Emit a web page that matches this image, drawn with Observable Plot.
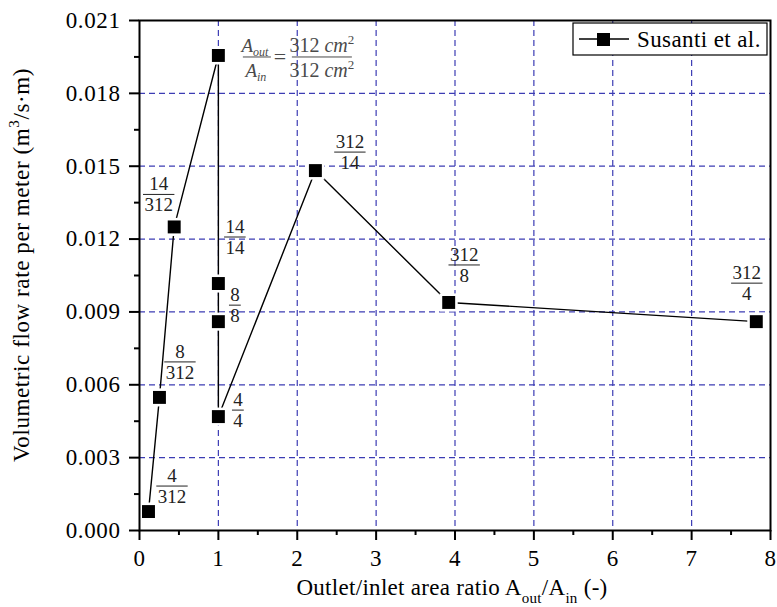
<!DOCTYPE html>
<html><head><meta charset="utf-8">
<script src="https://cdn.jsdelivr.net/npm/d3@7"></script>
<script src="https://cdn.jsdelivr.net/npm/@observablehq/plot@0.6"></script>
<style>body{margin:0;background:#fff;} svg text{font-family:'Liberation Serif','Times New Roman',serif;}</style>
</head><body><div id="chart"></div>
<script>
// ---- data ----
const ratios    = [0.114, 0.253, 0.44, 1.0, 1.0, 1.0, 1.0, 2.23, 3.92, 7.82];
const flowRates = [0.00078, 0.00548, 0.0125, 0.01956, 0.01017, 0.0086, 0.00469, 0.01482, 0.00939, 0.0086];
const numerators   = ["4", "8", "14", "312", "14", "8", "4", "312", "312", "312"];
const denominators = ["312", "312", "312", "312", "14", "8", "4", "14", "8", "4"];
const seriesName = "Susanti et al.";
const xTicks = [0, 1, 2, 3, 4, 5, 6, 7, 8];
const xMinor = [0.5, 1.5, 2.5, 3.5, 4.5, 5.5, 6.5, 7.5];
const yTicks = [0, 0.003, 0.006, 0.009, 0.012, 0.015, 0.018, 0.021];
const yMinor = [0.0015, 0.0045, 0.0075, 0.0105, 0.0135, 0.0165, 0.0195];
const xGrid = [1, 2, 3, 4, 5, 6, 7];
const yGrid = [0.003, 0.006, 0.009, 0.012, 0.015, 0.018];
const xTitle = ["Outlet/inlet area ratio A", "out", "/A", "in", " (-)"];
const yTitle = ["Volumetric flow rate per meter (m", "3", "/s\u00b7m)"];

// ---- layout (pixel offsets of each fraction label from its point) ----
const labelOffsets = [[24,-25],[21,-35],[-15,-32],null,[17,-46],[17,-16],[20,-6],[35,-18],[16,-37],[-9,-38]];
const eqIndex = 3;

const FONT = "'Liberation Serif','Times New Roman',serif";
const GRID = "#3c3cb4";
const rows = ratios.map((x, i) => ({x, y: flowRates[i]}));

const chart = Plot.plot({
  width: 777, height: 607,
  marginLeft: 139, marginRight: 7, marginTop: 20, marginBottom: 77,
  style: {fontFamily: FONT, fontSize: "22px", background: "white", color: "black", overflow: "visible"},
  x: {domain: [0, 8], axis: null},
  y: {domain: [0, 0.021], axis: null},
  marks: [
    Plot.ruleX(xGrid, {stroke: GRID, strokeWidth: 1.2, strokeDasharray: "6,4"}),
    Plot.ruleY(yGrid, {stroke: GRID, strokeWidth: 1.2, strokeDasharray: "6,4"}),
    Plot.line(rows, {x: "x", y: "y", stroke: "black", strokeWidth: 1.4}),
    Plot.dot(rows, {x: "x", y: "y", symbol: "square", r: 10.2, fill: "white", stroke: "none"}),
    Plot.dot(rows, {x: "x", y: "y", symbol: "square", r: 7.3, fill: "black", stroke: "none"}),
    Plot.axisX({ticks: xTicks, tickSize: 10, tickPadding: 9, strokeWidth: 2, fontSize: 23, fontFamily: FONT, label: null, tickFormat: d3.format("d")}),
    Plot.axisX({ticks: xMinor, tickSize: 5, strokeWidth: 2, label: null, tickFormat: () => ""}),
    Plot.axisY({ticks: yTicks, tickSize: 10, tickPadding: 9, strokeWidth: 2, fontSize: 23, fontFamily: FONT, label: null, tickFormat: d3.format(".3f")}),
    Plot.axisY({ticks: yMinor, tickSize: 5, strokeWidth: 2, label: null, tickFormat: () => ""}),
    Plot.frame({stroke: "black", strokeWidth: 2})
  ]
});
document.getElementById("chart").appendChild(chart);

const svgNode = chart.tagName.toLowerCase() === "svg" ? chart : chart.querySelector("svg");
const svg = d3.select(svgNode);
svg.selectAll("[aria-label^='y-axis tick label'] text, [aria-label^='x-axis tick label'] text").attr("letter-spacing", 0.6);
const sx = chart.scale("x"), sy = chart.scale("y");
const g = svg.append("g").attr("font-family", FONT).attr("text-anchor", "start");
const T = (sel) => sel.append("text").attr("font-family", FONT);

// fraction labels
rows.forEach((r, i) => {
  if (i === eqIndex) return;
  const [dx, dy] = labelOffsets[i];
  const cx = sx.apply(r.x) + dx, cy = sy.apply(r.y) + dy;
  const num = numerators[i], den = denominators[i];
  const w = Math.max(num.length, den.length) * 9.8 + 2;
  g.append("line").attr("x1", cx - w / 2).attr("x2", cx + w / 2).attr("y1", cy).attr("y2", cy)
    .attr("stroke", "#222").attr("stroke-width", 1);
  T(g).attr("x", cx).attr("y", cy - 4).attr("text-anchor", "middle").attr("font-size", 19).attr("fill", "#222").text(num);
  T(g).attr("x", cx).attr("y", cy + 17).attr("text-anchor", "middle").attr("font-size", 19).attr("fill", "#222").text(den);
});

// equation label for the 312/312 point
{
  const px = sx.apply(rows[eqIndex].x), py = sy.apply(rows[eqIndex].y);
  const by = py + 2;
  const col = "#4a4a4a";
  const e = g.append("g").attr("fill", col);
  const lx = px + 39, rx = px + 104;
  e.append("line").attr("x1", lx - 14).attr("x2", lx + 14).attr("y1", by).attr("y2", by).attr("stroke", col).attr("stroke-width", 1);
  const n1 = T(e).attr("x", lx - 2).attr("y", by - 5).attr("text-anchor", "middle").attr("font-size", 19).attr("font-style", "italic");
  n1.append("tspan").text("A"); n1.append("tspan").attr("dy", 4).attr("font-size", 12).text("out");
  const d1 = T(e).attr("x", lx - 1).attr("y", by + 20).attr("text-anchor", "middle").attr("font-size", 19).attr("font-style", "italic");
  d1.append("tspan").text("A"); d1.append("tspan").attr("dy", 4).attr("font-size", 12).text("in");
  T(e).attr("x", px + 62).attr("y", by + 7).attr("text-anchor", "middle").attr("font-size", 22).text("=");
  e.append("line").attr("x1", rx - 30).attr("x2", rx + 30).attr("y1", by).attr("y2", by).attr("stroke", col).attr("stroke-width", 1);
  [[numerators[eqIndex], by - 5], [denominators[eqIndex], by + 20]].forEach(([v, yy]) => {
    const t = T(e).attr("x", rx).attr("y", yy).attr("text-anchor", "middle").attr("font-size", 20);
    t.append("tspan").text(v + " ");
    t.append("tspan").attr("font-style", "italic").text("cm");
    t.append("tspan").attr("dy", -8).attr("font-size", 13).text("2");
  });
}

// axis titles
{
  const t = T(g).attr("x", 452).attr("y", 595).attr("text-anchor", "middle").attr("font-size", 23).attr("letter-spacing", 0.3);
  t.append("tspan").text(xTitle[0]);
  t.append("tspan").attr("dy", 8).attr("font-size", 15).text(xTitle[1]);
  t.append("tspan").attr("dy", -8).text(xTitle[2]);
  t.append("tspan").attr("dy", 8).attr("font-size", 15).text(xTitle[3]);
  t.append("tspan").attr("dy", -8).text(xTitle[4]);
}
{
  const t = T(g).attr("transform", "translate(29,265) rotate(-90)").attr("text-anchor", "middle").attr("font-size", 23).attr("letter-spacing", 0.6);
  t.append("tspan").text(yTitle[0]);
  t.append("tspan").attr("dy", -10).attr("font-size", 15).text(yTitle[1]);
  t.append("tspan").attr("dy", 10).text(yTitle[2]);
}

// legend
{
  const L = g.append("g");
  L.append("rect").attr("x", 573).attr("y", 23).attr("width", 194).attr("height", 32)
    .attr("fill", "white").attr("stroke", "black").attr("stroke-width", 1.2);
  L.append("line").attr("x1", 579).attr("x2", 629).attr("y1", 39).attr("y2", 39).attr("stroke", "black").attr("stroke-width", 1.4);
  L.append("rect").attr("x", 597).attr("y", 33).attr("width", 13).attr("height", 13).attr("fill", "black");
  T(L).attr("x", 637).attr("y", 47).attr("text-anchor", "start").attr("font-size", 23).attr("letter-spacing", 0.4).text(seriesName);
}
</script>
</body></html>
